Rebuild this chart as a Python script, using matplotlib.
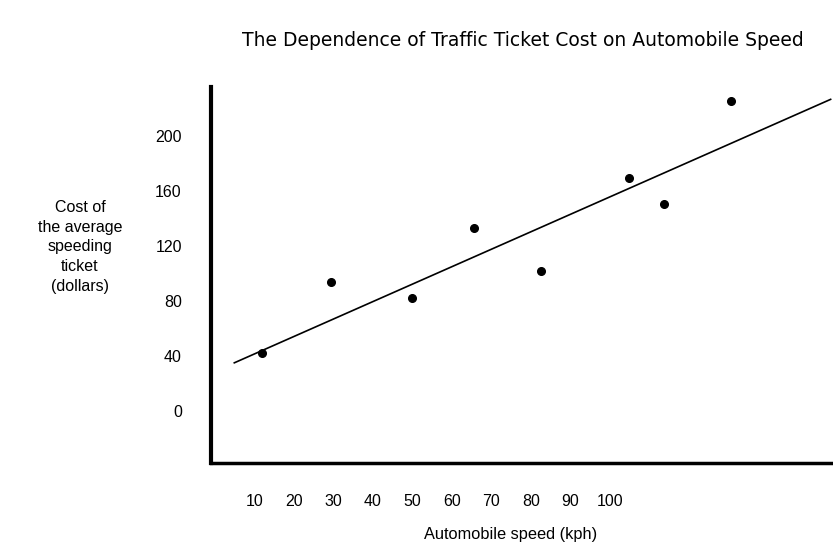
import matplotlib
matplotlib.use('Agg')
import matplotlib.pyplot as plt
import numpy as np

plt.rcParams['font.family'] = ['Liberation Sans', 'DejaVu Sans']

# data (axis units as labelled)
speed = [11.8, 29.5, 50.0, 65.5, 82.5, 104.8, 113.7, 130.7]
cost = [42, 94, 82, 133, 102, 170, 151, 226]
fit_speed = [4.9, 155.9]
fit_cost = [35, 227]
x_ticks = [10, 20, 30, 40, 50, 60, 70, 80, 90, 100]
y_ticks = [0, 40, 80, 120, 160, 200]

W, H = 833, 557
fig = plt.figure(figsize=(W / 100, H / 100), dpi=100)
ax = fig.add_axes([211 / W, (H - 463) / H, (W - 211) / W, (463 - 87) / H])

ax.plot(fit_speed, fit_cost, color='black', lw=1.2)
ax.plot(speed, cost, 'o', color='black', ms=5.5)

ax.set_xlim(-1, 156.5)
ax.set_ylim(-38, 236)
ax.set_xticks(x_ticks)
ax.set_yticks(y_ticks)
ax.tick_params(length=0, labelsize=11.5, pad=0)
ax.tick_params(axis='x', pad=22)
ax.tick_params(axis='y', pad=21)

for s in ['top', 'right']:
    ax.spines[s].set_visible(False)
ax.spines['left'].set_linewidth(3)
ax.spines['bottom'].set_linewidth(2.5)

fig.text(523 / W, 1 - 40 / H, 'The Dependence of Traffic Ticket Cost on Automobile Speed',
         ha='center', va='center', fontsize=13.5, family=['DejaVu Sans'])
fig.text(511 / W, 1 - 535 / H, 'Automobile speed (kph)', ha='center', va='center', fontsize=11.8)
fig.text(80 / W, 1 - 247 / H, 'Cost of\nthe average\nspeeding\nticket\n(dollars)',
         ha='center', va='center', fontsize=11.5, linespacing=1.4)

fig.savefig('out.png', dpi=100)
